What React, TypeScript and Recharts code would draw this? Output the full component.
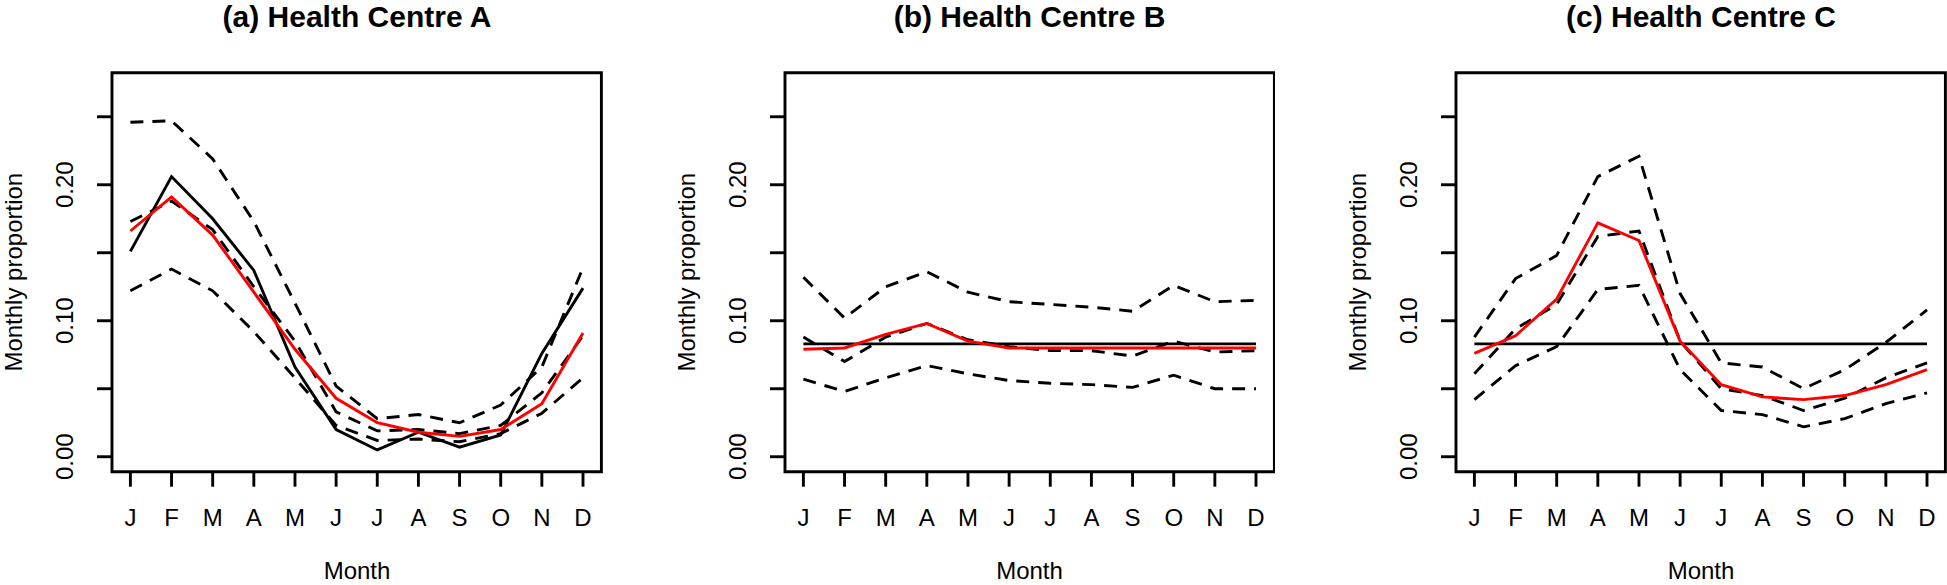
import React from "react";
import { LineChart, Line, XAxis, YAxis, ReferenceArea } from "recharts";

const MONTHS = ["J", "F", "M", "A", "M", "J", "J", "A", "S", "O", "N", "D"];
const MONTH_NUM = [1, 2, 3, 4, 5, 6, 7, 8, 9, 10, 11, 12];
const Y_TICKS = [0, 0.05, 0.1, 0.15, 0.2, 0.25];
const Y_LABELS = ["0.00", "", "0.10", "", "0.20", ""];

// (a) Health Centre A
const A_OBS = [0.151, 0.206, 0.175, 0.137, 0.066, 0.020, 0.005, 0.018, 0.007, 0.016, 0.076, 0.124];
const A_FIT = [0.166, 0.191, 0.163, 0.121, 0.079, 0.043, 0.025, 0.018, 0.015, 0.020, 0.039, 0.091];
const A_HI = [0.246, 0.247, 0.219, 0.173, 0.113, 0.052, 0.028, 0.031, 0.025, 0.038, 0.066, 0.139];
const A_MID = [0.173, 0.188, 0.167, 0.125, 0.085, 0.033, 0.019, 0.020, 0.017, 0.023, 0.047, 0.089];
const A_LO = [0.122, 0.138, 0.122, 0.092, 0.058, 0.023, 0.012, 0.013, 0.011, 0.017, 0.032, 0.058];

// (b) Health Centre B
const B_FLAT = [0.083, 0.083, 0.083, 0.083, 0.083, 0.083, 0.083, 0.083, 0.083, 0.083, 0.083, 0.083];
const B_FIT = [0.079, 0.080, 0.090, 0.098, 0.085, 0.080, 0.080, 0.080, 0.080, 0.080, 0.080, 0.080];
const B_HI = [0.132, 0.102, 0.125, 0.136, 0.121, 0.114, 0.112, 0.110, 0.107, 0.126, 0.114, 0.115];
const B_MID = [0.088, 0.070, 0.088, 0.098, 0.086, 0.081, 0.078, 0.078, 0.074, 0.085, 0.077, 0.078];
const B_LO = [0.057, 0.048, 0.058, 0.067, 0.061, 0.056, 0.054, 0.053, 0.051, 0.060, 0.050, 0.050];

// (c) Health Centre C
const C_FLAT = [0.083, 0.083, 0.083, 0.083, 0.083, 0.083, 0.083, 0.083, 0.083, 0.083, 0.083, 0.083];
const C_FIT = [0.076, 0.089, 0.116, 0.172, 0.159, 0.085, 0.053, 0.044, 0.042, 0.045, 0.053, 0.064];
const C_HI = [0.088, 0.131, 0.148, 0.206, 0.221, 0.120, 0.069, 0.066, 0.050, 0.064, 0.084, 0.108];
const C_MID = [0.061, 0.094, 0.112, 0.162, 0.166, 0.085, 0.050, 0.045, 0.034, 0.043, 0.058, 0.069];
const C_LO = [0.042, 0.067, 0.081, 0.123, 0.126, 0.064, 0.034, 0.031, 0.022, 0.028, 0.039, 0.047];

const FONT = '"Liberation Sans", Arial, Helvetica, sans-serif';
const LW = 2.9;
const DASH = "13 9";

const X_DOMAIN = [0.553, 12.447];
const Y_DOMAIN = [-0.011, 0.2824];

// geometry of one panel (px)
const BOX_W = 489.4;
const BOX_TOP = 72.7;
const BOX_BOTTOM = 471.7;
const LEFT_PAD = 112;
const CHART_W = LEFT_PAD + BOX_W + 1.2;

const XTick = (props: any) => {
  const { x, payload } = props;
  return (
    <text x={x} y={525.7} textAnchor="middle" fontSize={24} fontFamily={FONT} fill="#000">
      {MONTHS[payload.value - 1]}
    </text>
  );
};

const YTick = (props: any) => {
  const { y, payload } = props;
  const idx = Y_TICKS.indexOf(payload.value);
  const label = idx >= 0 ? Y_LABELS[idx] : "";
  if (!label) return <g />;
  return (
    <text
      transform={`translate(${LEFT_PAD - 39},${y}) rotate(-90)`}
      textAnchor="middle"
      fontSize={24}
      fontFamily={FONT}
      fill="#000"
    >
      {label}
    </text>
  );
};

interface PanelProps {
  boxLeft: number;
  title: string;
  lo: number[];
  mid: number[];
  hi: number[];
  fit: number[];
  black: number[];
}

function Panel({ boxLeft, title, lo, mid, hi, fit, black }: PanelProps) {
  const rows = MONTH_NUM.map((m, i) => ({
    m,
    lo: lo[i],
    mid: mid[i],
    hi: hi[i],
    fit: fit[i],
    black: black[i],
  }));
  const cx = boxLeft + BOX_W / 2;
  const cy = (BOX_TOP + BOX_BOTTOM) / 2;

  return (
    <>
      <div style={{ position: "absolute", left: boxLeft - LEFT_PAD, top: 0 }}>
        <LineChart
          width={CHART_W}
          height={585}
          data={rows}
          margin={{ top: BOX_TOP, right: 1.2, bottom: 585 - BOX_BOTTOM - 60, left: LEFT_PAD - 60 }}
        >
          <XAxis
            dataKey="m"
            type="number"
            domain={X_DOMAIN}
            allowDataOverflow
            ticks={MONTH_NUM}
            interval={0}
            height={60}
            tickSize={15}
            axisLine={false}
            tickLine={{ stroke: "#000", strokeWidth: LW }}
            tick={<XTick />}
          />
          <YAxis
            type="number"
            domain={Y_DOMAIN}
            allowDataOverflow
            ticks={Y_TICKS}
            interval={0}
            width={60}
            tickSize={15}
            axisLine={false}
            tickLine={{ stroke: "#000", strokeWidth: LW }}
            tick={<YTick />}
          />
          <Line dataKey="hi" stroke="#000" strokeWidth={LW} strokeDasharray={DASH} dot={false} isAnimationActive={false} />
          <Line dataKey="mid" stroke="#000" strokeWidth={LW} strokeDasharray={DASH} dot={false} isAnimationActive={false} />
          <Line dataKey="lo" stroke="#000" strokeWidth={LW} strokeDasharray={DASH} dot={false} isAnimationActive={false} />
          <Line dataKey="black" stroke="#000" strokeWidth={LW} dot={false} isAnimationActive={false} />
          <Line dataKey="fit" stroke="#ff0000" strokeWidth={LW} dot={false} isAnimationActive={false} />
          <ReferenceArea
            x1={X_DOMAIN[0]}
            x2={X_DOMAIN[1]}
            y1={Y_DOMAIN[0]}
            y2={Y_DOMAIN[1]}
            fill="none"
            fillOpacity={0}
            stroke="#000"
            strokeWidth={LW}
            ifOverflow="visible"
          />
        </LineChart>
      </div>
      <svg
        width={1947}
        height={585}
        style={{ position: "absolute", left: 0, top: 0, pointerEvents: "none" }}
      >
        <text x={cx} y={27} textAnchor="middle" fontSize={30} fontWeight="bold" fontFamily={FONT} fill="#000">
          {title}
        </text>
        <text x={cx} y={579} textAnchor="middle" fontSize={24} fontFamily={FONT} fill="#000">
          Month
        </text>
        <text
          transform={`translate(${boxLeft - 90},${cy}) rotate(-90)`}
          textAnchor="middle"
          fontSize={24}
          fontFamily={FONT}
          fill="#000"
        >
          Monthly proportion
        </text>
      </svg>
    </>
  );
}

export default function App() {
  return (
    <div style={{ position: "relative", width: 1947, height: 585, overflow: "hidden", background: "#fff" }}>
      <style>{"html,body{margin:0;padding:0;overflow:hidden;background:#fff}"}</style>
      <Panel boxLeft={112.3} title="(a) Health Centre A" lo={A_LO} mid={A_MID} hi={A_HI} fit={A_FIT} black={A_OBS} />
      <Panel boxLeft={784.8} title="(b) Health Centre B" lo={B_LO} mid={B_MID} hi={B_HI} fit={B_FIT} black={B_FLAT} />
      <Panel boxLeft={1456.3} title="(c) Health Centre C" lo={C_LO} mid={C_MID} hi={C_HI} fit={C_FIT} black={C_FLAT} />
    </div>
  );
}
